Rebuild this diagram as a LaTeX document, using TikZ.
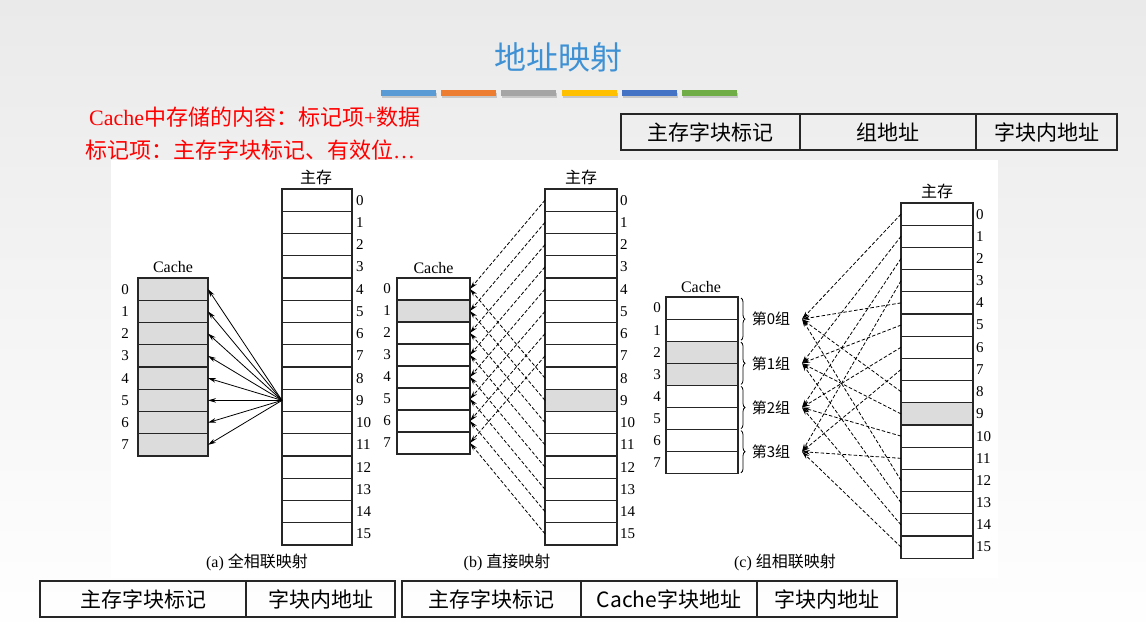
\documentclass[tikz,border=0pt]{standalone}
\usepackage{fontspec}
\setmainfont{Liberation Serif}
\newfontfamily\cjk{Noto Sans CJK SC}
\usetikzlibrary{arrows.meta,decorations.pathreplacing}
\definecolor{titleblue}{RGB}{62,145,212}
\definecolor{barA}{RGB}{91,155,213}
\definecolor{barB}{RGB}{237,125,49}
\definecolor{barC}{RGB}{165,165,165}
\definecolor{barD}{RGB}{255,192,0}
\definecolor{barE}{RGB}{68,114,196}
\definecolor{barF}{RGB}{112,173,71}
\definecolor{cellgray}{RGB}{220,220,220}
\definecolor{bgtop}{RGB}{234,234,234}
\newcommand\dnum{\fontsize{15}{17}\selectfont}
\newcommand\dlab{\fontsize{16}{18}\selectfont}
\newcommand\dcjk{\cjk\fontsize{15.5}{18}\selectfont}
\begin{document}
\begin{tikzpicture}[x=1pt,y=-1pt,
  box/.style={draw=black!85,line width=1.1pt,inner sep=0pt,outer sep=0pt},
  numlab/.style={inner sep=0pt,font=\dnum},
  memnum/.style={numlab,anchor=west},
  arr/.style={-{Stealth[length=8pt,width=4.5pt]},line width=0.8pt,black},
  darr/.style={arr,dash pattern=on 3.5pt off 2pt},
  tcell/.style={draw=black!85,line width=1.3pt,minimum height=36pt,inner sep=0pt,outer sep=0pt,font=\cjk\fontsize{21}{24}\selectfont},
  redtxt/.style={anchor=west,inner sep=0pt,text=red}
]
\useasboundingbox (0,0) rectangle (1146,637);
\shade[top color=bgtop,bottom color=white] (0,0) rectangle (1146,637);
\fill[white] (111,160) rectangle (998,578);

% title
\node[text=titleblue,font=\cjk\fontsize{32}{36}\selectfont] (title) at (558,57) {地址映射};
\foreach \k/\c in {0/barA,1/barB,2/barC,3/barD,4/barE,5/barF}{
  \fill[black!22] ({381+\k*60.2+1},93) rectangle ({381+\k*60.2+56},98);
  \fill[\c] ({381+\k*60.2},90) rectangle ({381+\k*60.2+55},95.5);
}

% red notes
\node[redtxt,font=\fontsize{22}{26}\selectfont] (note1) at (89,117) {Cache{\cjk 中存储的内容：标记项}+{\cjk 数据}};
\node[redtxt,font=\fontsize{22}{26}\selectfont] (note2) at (85,150) {{\cjk 标记项：主存字块标记、有效位}…};

% top table
\node[tcell,minimum width=179pt] (tt1) at (710.5,132) {主存字块标记};
\node[tcell,minimum width=176pt] (tt2) at (888,132) {组地址};
\node[tcell,minimum width=141pt] (tt3) at (1046.5,132) {字块内地址};

% ---------------- (a) fully associative
\node[font=\dcjk\fontsize{16}{18}\selectfont] (amlab) at (316,177) {主存};
\node[font=\dlab] (aclab) at (173,267) {Cache};
\foreach \i in {0,...,7}{
  \node[box,fill=cellgray,minimum width=70pt,minimum height=22.25pt] (ac\i) at (173,{278+(\i+0.5)*22.25}) {};
  \node[numlab] (acn\i) at (125,{278+(\i+0.5)*22.25}) {\i};
}
\foreach \i in {0,...,15}{
  \node[box,minimum width=70pt,minimum height=22.25pt] (am\i) at (317,{189+(\i+0.5)*22.25}) {};
  \node[memnum] (amn\i) at (356,{189+(\i+0.5)*22.25}) {\i};
}
\foreach \i in {0,...,7}{ \draw[arr] (am9.west) -- (ac\i.east); }
\node[font=\dlab] (acap) at (257,562) {(a) {\cjk\fontsize{16}{18}\selectfont 全相联映射}};

% ---------------- (b) direct
\node[font=\cjk\fontsize{16}{18}\selectfont] (bmlab) at (581,177) {主存};
\node[font=\dlab] (bclab) at (433.5,268) {Cache};
\foreach \i in {0,...,7}{
  \ifnum\i=1 \def\fc{cellgray}\else\def\fc{white}\fi
  \node[box,fill=\fc,minimum width=73pt,minimum height=22pt] (bc\i) at (433.5,{278+(\i+0.5)*22}) {};
  \node[numlab] (bcn\i) at (387,{278+(\i+0.5)*22}) {\i};
}
\foreach \i in {0,...,15}{
  \ifnum\i=9 \def\fc{cellgray}\else\def\fc{white}\fi
  \node[box,fill=\fc,minimum width=72pt,minimum height=22.25pt] (bm\i) at (581,{189+(\i+0.5)*22.25}) {};
  \node[memnum] (bmn\i) at (620,{189+(\i+0.5)*22.25}) {\i};
}
\foreach \i in {0,...,15}{
  \pgfmathtruncatemacro\j{mod(\i,8)}
  \draw[darr] (bm\i.west) -- (bc\j.east);
}
\node[font=\dlab] (bcap) at (507,562) {(b) {\cjk\fontsize{16}{18}\selectfont 直接映射}};

% ---------------- (c) set associative
\node[font=\cjk\fontsize{16}{18}\selectfont] (cmlab) at (937,191) {主存};
\node[font=\dlab] (cclab) at (701,287) {Cache};
\foreach \i in {0,...,7}{
  \ifnum\i=2 \def\fc{cellgray}\else\ifnum\i=3 \def\fc{cellgray}\else\def\fc{white}\fi\fi
  \node[box,fill=\fc,minimum width=72pt,minimum height=22.1pt] (cc\i) at (702,{297+(\i+0.5)*22.1}) {};
  \node[numlab] (ccn\i) at (657,{297+(\i+0.5)*22.1}) {\i};
}
\foreach \i in {0,...,15}{
  \ifnum\i=9 \def\fc{cellgray}\else\def\fc{white}\fi
  \node[box,fill=\fc,minimum width=72pt,minimum height=22.2pt] (cm\i) at (937,{203+(\i+0.5)*22.2}) {};
  \node[memnum] (cmn\i) at (976,{203+(\i+0.5)*22.2}) {\i};
}
\foreach \k in {0,...,3}{
  \draw[line width=0.8pt,decorate,decoration={brace,amplitude=4pt}] (741,{297+2*\k*22.1+1}) -- (741,{297+(2*\k+2)*22.1-1});
  \node[font=\cjk\fontsize{15}{17}\selectfont,inner sep=0pt] (gl\k) at (771,{297+(2*\k+1)*22.1}) {第\k 组};
  \coordinate (g\k) at (802,{297+(2*\k+1)*22.1});
}
\foreach \i in {0,...,15}{
  \pgfmathtruncatemacro\j{mod(\i,4)}
  \draw[darr] (cm\i.west) -- (g\j);
}
\node[font=\dlab] (ccap) at (785,562) {(c) {\cjk\fontsize{16}{18}\selectfont 组相联映射}};

% bottom tables
\node[tcell,minimum width=206pt] (ba1) at (143,599) {主存字块标记};
\node[tcell,minimum width=149pt] (ba2) at (320.5,599) {字块内地址};
\node[tcell,minimum width=179pt] (bb1) at (491.5,599) {主存字块标记};
\node[tcell,minimum width=176pt] (bb2) at (669,599) {Cache字块地址};
\node[tcell,minimum width=140pt] (bb3) at (827,599) {字块内地址};
\end{tikzpicture}
\end{document}
